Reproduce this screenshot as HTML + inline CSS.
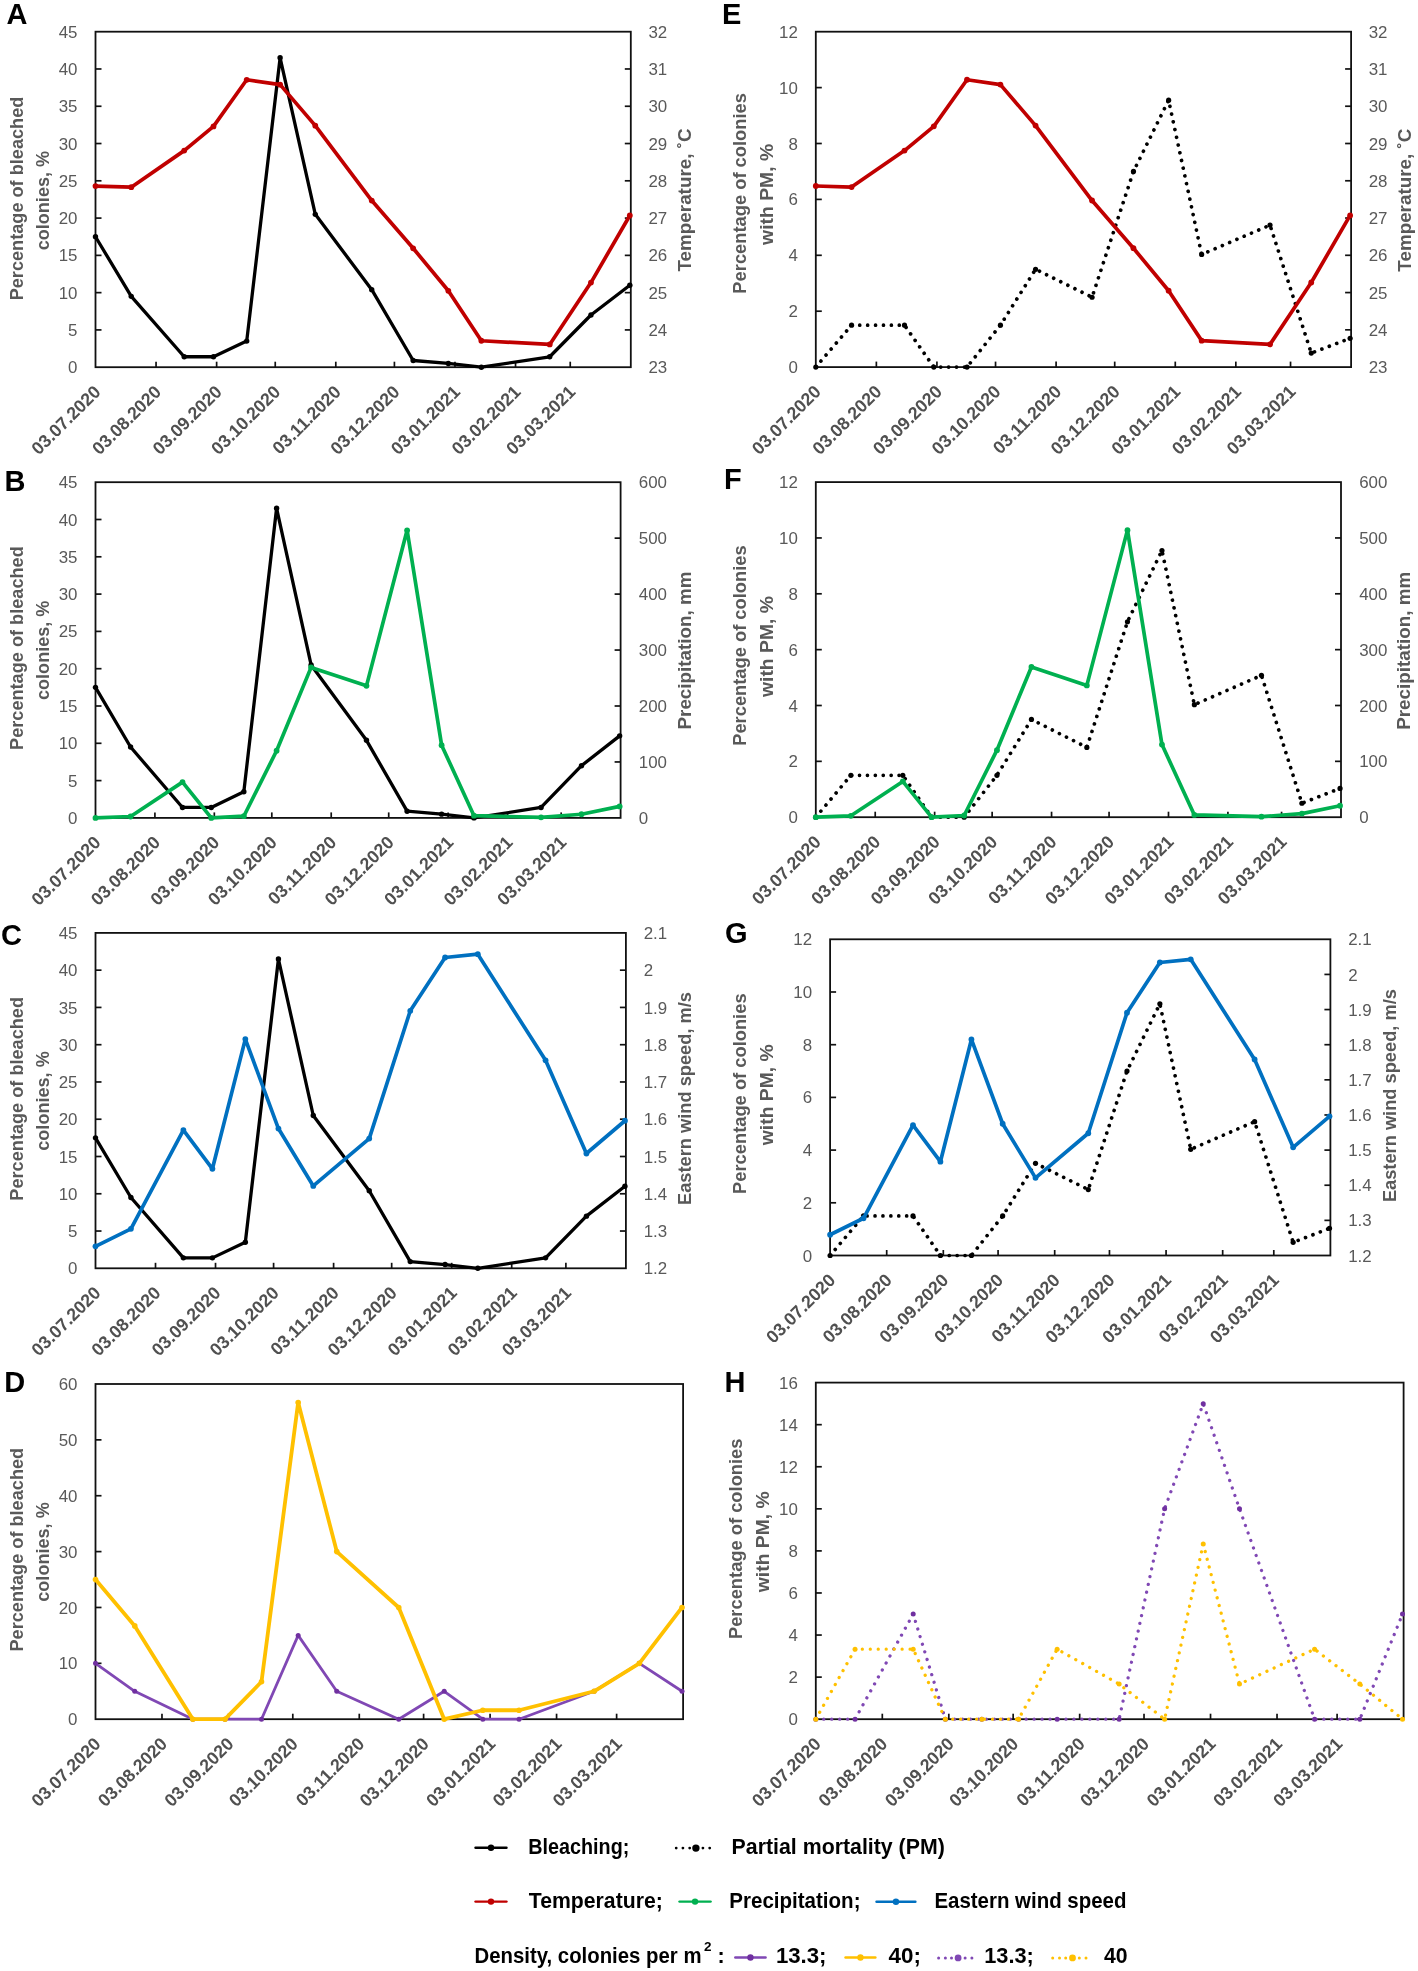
<!DOCTYPE html>
<html><head><meta charset="utf-8"><title>Figure</title>
<style>
html,body{margin:0;padding:0;background:#fff;}
body{width:1418px;height:1971px;overflow:hidden;font-family:"Liberation Sans",sans-serif;}
svg{display:block;will-change:transform;}
</style></head><body>
<svg width="1418" height="1971" viewBox="0 0 1418 1971" font-family="Liberation Sans, sans-serif"><line x1="156.06" y1="367.2" x2="156.06" y2="361.7" stroke="#111111" stroke-width="1.7"/><line x1="216.63" y1="367.2" x2="216.63" y2="361.7" stroke="#111111" stroke-width="1.7"/><line x1="275.24" y1="367.2" x2="275.24" y2="361.7" stroke="#111111" stroke-width="1.7"/><line x1="335.8" y1="367.2" x2="335.8" y2="361.7" stroke="#111111" stroke-width="1.7"/><line x1="394.41" y1="367.2" x2="394.41" y2="361.7" stroke="#111111" stroke-width="1.7"/><line x1="454.97" y1="367.2" x2="454.97" y2="361.7" stroke="#111111" stroke-width="1.7"/><line x1="515.53" y1="367.2" x2="515.53" y2="361.7" stroke="#111111" stroke-width="1.7"/><line x1="570.24" y1="367.2" x2="570.24" y2="361.7" stroke="#111111" stroke-width="1.7"/><text x="77.5" y="373.28" font-size="16.9" fill="#595959" text-anchor="end">0</text><line x1="95.5" y1="329.92" x2="101.5" y2="329.92" stroke="#111111" stroke-width="1.7"/><text x="77.5" y="336.01" font-size="16.9" fill="#595959" text-anchor="end">5</text><line x1="95.5" y1="292.64" x2="101.5" y2="292.64" stroke="#111111" stroke-width="1.7"/><text x="77.5" y="298.73" font-size="16.9" fill="#595959" text-anchor="end">10</text><line x1="95.5" y1="255.37" x2="101.5" y2="255.37" stroke="#111111" stroke-width="1.7"/><text x="77.5" y="261.45" font-size="16.9" fill="#595959" text-anchor="end">15</text><line x1="95.5" y1="218.09" x2="101.5" y2="218.09" stroke="#111111" stroke-width="1.7"/><text x="77.5" y="224.17" font-size="16.9" fill="#595959" text-anchor="end">20</text><line x1="95.5" y1="180.81" x2="101.5" y2="180.81" stroke="#111111" stroke-width="1.7"/><text x="77.5" y="186.9" font-size="16.9" fill="#595959" text-anchor="end">25</text><line x1="95.5" y1="143.53" x2="101.5" y2="143.53" stroke="#111111" stroke-width="1.7"/><text x="77.5" y="149.62" font-size="16.9" fill="#595959" text-anchor="end">30</text><line x1="95.5" y1="106.26" x2="101.5" y2="106.26" stroke="#111111" stroke-width="1.7"/><text x="77.5" y="112.34" font-size="16.9" fill="#595959" text-anchor="end">35</text><line x1="95.5" y1="68.98" x2="101.5" y2="68.98" stroke="#111111" stroke-width="1.7"/><text x="77.5" y="75.06" font-size="16.9" fill="#595959" text-anchor="end">40</text><text x="77.5" y="37.78" font-size="16.9" fill="#595959" text-anchor="end">45</text><text x="648.4" y="373.28" font-size="16.9" fill="#595959" text-anchor="start">23</text><line x1="630.8" y1="329.92" x2="624.8" y2="329.92" stroke="#111111" stroke-width="1.7"/><text x="648.4" y="336.01" font-size="16.9" fill="#595959" text-anchor="start">24</text><line x1="630.8" y1="292.64" x2="624.8" y2="292.64" stroke="#111111" stroke-width="1.7"/><text x="648.4" y="298.73" font-size="16.9" fill="#595959" text-anchor="start">25</text><line x1="630.8" y1="255.37" x2="624.8" y2="255.37" stroke="#111111" stroke-width="1.7"/><text x="648.4" y="261.45" font-size="16.9" fill="#595959" text-anchor="start">26</text><line x1="630.8" y1="218.09" x2="624.8" y2="218.09" stroke="#111111" stroke-width="1.7"/><text x="648.4" y="224.17" font-size="16.9" fill="#595959" text-anchor="start">27</text><line x1="630.8" y1="180.81" x2="624.8" y2="180.81" stroke="#111111" stroke-width="1.7"/><text x="648.4" y="186.9" font-size="16.9" fill="#595959" text-anchor="start">28</text><line x1="630.8" y1="143.53" x2="624.8" y2="143.53" stroke="#111111" stroke-width="1.7"/><text x="648.4" y="149.62" font-size="16.9" fill="#595959" text-anchor="start">29</text><line x1="630.8" y1="106.26" x2="624.8" y2="106.26" stroke="#111111" stroke-width="1.7"/><text x="648.4" y="112.34" font-size="16.9" fill="#595959" text-anchor="start">30</text><line x1="630.8" y1="68.98" x2="624.8" y2="68.98" stroke="#111111" stroke-width="1.7"/><text x="648.4" y="75.06" font-size="16.9" fill="#595959" text-anchor="start">31</text><text x="648.4" y="37.78" font-size="16.9" fill="#595959" text-anchor="start">32</text><text x="101.8" y="392.9" font-size="17.8" font-weight="bold" fill="#505050" text-anchor="end" transform="rotate(-45 101.8 392.9)">03.07.2020</text><text x="162.36" y="392.9" font-size="17.8" font-weight="bold" fill="#505050" text-anchor="end" transform="rotate(-45 162.36 392.9)">03.08.2020</text><text x="222.93" y="392.9" font-size="17.8" font-weight="bold" fill="#505050" text-anchor="end" transform="rotate(-45 222.93 392.9)">03.09.2020</text><text x="281.54" y="392.9" font-size="17.8" font-weight="bold" fill="#505050" text-anchor="end" transform="rotate(-45 281.54 392.9)">03.10.2020</text><text x="342.1" y="392.9" font-size="17.8" font-weight="bold" fill="#505050" text-anchor="end" transform="rotate(-45 342.1 392.9)">03.11.2020</text><text x="400.71" y="392.9" font-size="17.8" font-weight="bold" fill="#505050" text-anchor="end" transform="rotate(-45 400.71 392.9)">03.12.2020</text><text x="461.27" y="392.9" font-size="17.8" font-weight="bold" fill="#505050" text-anchor="end" transform="rotate(-45 461.27 392.9)">03.01.2021</text><text x="521.83" y="392.9" font-size="17.8" font-weight="bold" fill="#505050" text-anchor="end" transform="rotate(-45 521.83 392.9)">03.02.2021</text><text x="576.54" y="392.9" font-size="17.8" font-weight="bold" fill="#505050" text-anchor="end" transform="rotate(-45 576.54 392.9)">03.03.2021</text><rect x="95.5" y="31.7" width="535.3" height="335.5" fill="none" stroke="#111111" stroke-width="1.8"/><path d="M95.5 236.73 L131.25 296.37 L184.2 356.76 L213.5 356.76 L246.71 341.11 L280.12 57.79 L315.29 214.36 L371.75 289.66 L413.16 360.49 L448.33 363.47 L481.35 367.2 L549.72 356.76 L590.95 315.01 L629.82 285.19" fill="none" stroke="#000000" stroke-width="3.3" stroke-linejoin="round"/><circle cx="95.5" cy="236.73" r="2.7" fill="#000000"/><circle cx="131.25" cy="296.37" r="2.7" fill="#000000"/><circle cx="184.2" cy="356.76" r="2.7" fill="#000000"/><circle cx="213.5" cy="356.76" r="2.7" fill="#000000"/><circle cx="246.71" cy="341.11" r="2.7" fill="#000000"/><circle cx="280.12" cy="57.79" r="2.7" fill="#000000"/><circle cx="315.29" cy="214.36" r="2.7" fill="#000000"/><circle cx="371.75" cy="289.66" r="2.7" fill="#000000"/><circle cx="413.16" cy="360.49" r="2.7" fill="#000000"/><circle cx="448.33" cy="363.47" r="2.7" fill="#000000"/><circle cx="481.35" cy="367.2" r="2.7" fill="#000000"/><circle cx="549.72" cy="356.76" r="2.7" fill="#000000"/><circle cx="590.95" cy="315.01" r="2.7" fill="#000000"/><circle cx="629.82" cy="285.19" r="2.7" fill="#000000"/><path d="M95.5 186.03 L131.25 187.15 L184.2 150.62 L213.5 126.39 L246.71 79.79 L280.12 84.63 L315.29 125.64 L371.75 200.57 L413.16 248.28 L448.33 290.78 L481.35 340.73 L549.72 344.46 L590.95 282.58 L629.82 215.48" fill="none" stroke="#C00000" stroke-width="3.7" stroke-linejoin="round"/><circle cx="95.5" cy="186.03" r="2.9" fill="#C00000"/><circle cx="131.25" cy="187.15" r="2.9" fill="#C00000"/><circle cx="184.2" cy="150.62" r="2.9" fill="#C00000"/><circle cx="213.5" cy="126.39" r="2.9" fill="#C00000"/><circle cx="246.71" cy="79.79" r="2.9" fill="#C00000"/><circle cx="280.12" cy="84.63" r="2.9" fill="#C00000"/><circle cx="315.29" cy="125.64" r="2.9" fill="#C00000"/><circle cx="371.75" cy="200.57" r="2.9" fill="#C00000"/><circle cx="413.16" cy="248.28" r="2.9" fill="#C00000"/><circle cx="448.33" cy="290.78" r="2.9" fill="#C00000"/><circle cx="481.35" cy="340.73" r="2.9" fill="#C00000"/><circle cx="549.72" cy="344.46" r="2.9" fill="#C00000"/><circle cx="590.95" cy="282.58" r="2.9" fill="#C00000"/><circle cx="629.82" cy="215.48" r="2.9" fill="#C00000"/><line x1="154.91" y1="817.9" x2="154.91" y2="812.4" stroke="#111111" stroke-width="1.7"/><line x1="214.32" y1="817.9" x2="214.32" y2="812.4" stroke="#111111" stroke-width="1.7"/><line x1="271.81" y1="817.9" x2="271.81" y2="812.4" stroke="#111111" stroke-width="1.7"/><line x1="331.22" y1="817.9" x2="331.22" y2="812.4" stroke="#111111" stroke-width="1.7"/><line x1="388.71" y1="817.9" x2="388.71" y2="812.4" stroke="#111111" stroke-width="1.7"/><line x1="448.12" y1="817.9" x2="448.12" y2="812.4" stroke="#111111" stroke-width="1.7"/><line x1="507.53" y1="817.9" x2="507.53" y2="812.4" stroke="#111111" stroke-width="1.7"/><line x1="561.19" y1="817.9" x2="561.19" y2="812.4" stroke="#111111" stroke-width="1.7"/><text x="77.5" y="823.98" font-size="16.9" fill="#595959" text-anchor="end">0</text><line x1="95.5" y1="780.6" x2="101.5" y2="780.6" stroke="#111111" stroke-width="1.7"/><text x="77.5" y="786.68" font-size="16.9" fill="#595959" text-anchor="end">5</text><line x1="95.5" y1="743.3" x2="101.5" y2="743.3" stroke="#111111" stroke-width="1.7"/><text x="77.5" y="749.38" font-size="16.9" fill="#595959" text-anchor="end">10</text><line x1="95.5" y1="706" x2="101.5" y2="706" stroke="#111111" stroke-width="1.7"/><text x="77.5" y="712.08" font-size="16.9" fill="#595959" text-anchor="end">15</text><line x1="95.5" y1="668.7" x2="101.5" y2="668.7" stroke="#111111" stroke-width="1.7"/><text x="77.5" y="674.78" font-size="16.9" fill="#595959" text-anchor="end">20</text><line x1="95.5" y1="631.4" x2="101.5" y2="631.4" stroke="#111111" stroke-width="1.7"/><text x="77.5" y="637.48" font-size="16.9" fill="#595959" text-anchor="end">25</text><line x1="95.5" y1="594.1" x2="101.5" y2="594.1" stroke="#111111" stroke-width="1.7"/><text x="77.5" y="600.18" font-size="16.9" fill="#595959" text-anchor="end">30</text><line x1="95.5" y1="556.8" x2="101.5" y2="556.8" stroke="#111111" stroke-width="1.7"/><text x="77.5" y="562.88" font-size="16.9" fill="#595959" text-anchor="end">35</text><line x1="95.5" y1="519.5" x2="101.5" y2="519.5" stroke="#111111" stroke-width="1.7"/><text x="77.5" y="525.58" font-size="16.9" fill="#595959" text-anchor="end">40</text><text x="77.5" y="488.28" font-size="16.9" fill="#595959" text-anchor="end">45</text><text x="638.8" y="823.98" font-size="16.9" fill="#595959" text-anchor="start">0</text><line x1="620.6" y1="761.95" x2="614.6" y2="761.95" stroke="#111111" stroke-width="1.7"/><text x="638.8" y="768.03" font-size="16.9" fill="#595959" text-anchor="start">100</text><line x1="620.6" y1="706" x2="614.6" y2="706" stroke="#111111" stroke-width="1.7"/><text x="638.8" y="712.08" font-size="16.9" fill="#595959" text-anchor="start">200</text><line x1="620.6" y1="650.05" x2="614.6" y2="650.05" stroke="#111111" stroke-width="1.7"/><text x="638.8" y="656.13" font-size="16.9" fill="#595959" text-anchor="start">300</text><line x1="620.6" y1="594.1" x2="614.6" y2="594.1" stroke="#111111" stroke-width="1.7"/><text x="638.8" y="600.18" font-size="16.9" fill="#595959" text-anchor="start">400</text><line x1="620.6" y1="538.15" x2="614.6" y2="538.15" stroke="#111111" stroke-width="1.7"/><text x="638.8" y="544.23" font-size="16.9" fill="#595959" text-anchor="start">500</text><text x="638.8" y="488.28" font-size="16.9" fill="#595959" text-anchor="start">600</text><text x="101.8" y="843.6" font-size="17.8" font-weight="bold" fill="#505050" text-anchor="end" transform="rotate(-45 101.8 843.6)">03.07.2020</text><text x="161.21" y="843.6" font-size="17.8" font-weight="bold" fill="#505050" text-anchor="end" transform="rotate(-45 161.21 843.6)">03.08.2020</text><text x="220.62" y="843.6" font-size="17.8" font-weight="bold" fill="#505050" text-anchor="end" transform="rotate(-45 220.62 843.6)">03.09.2020</text><text x="278.11" y="843.6" font-size="17.8" font-weight="bold" fill="#505050" text-anchor="end" transform="rotate(-45 278.11 843.6)">03.10.2020</text><text x="337.52" y="843.6" font-size="17.8" font-weight="bold" fill="#505050" text-anchor="end" transform="rotate(-45 337.52 843.6)">03.11.2020</text><text x="395.01" y="843.6" font-size="17.8" font-weight="bold" fill="#505050" text-anchor="end" transform="rotate(-45 395.01 843.6)">03.12.2020</text><text x="454.42" y="843.6" font-size="17.8" font-weight="bold" fill="#505050" text-anchor="end" transform="rotate(-45 454.42 843.6)">03.01.2021</text><text x="513.83" y="843.6" font-size="17.8" font-weight="bold" fill="#505050" text-anchor="end" transform="rotate(-45 513.83 843.6)">03.02.2021</text><text x="567.49" y="843.6" font-size="17.8" font-weight="bold" fill="#505050" text-anchor="end" transform="rotate(-45 567.49 843.6)">03.03.2021</text><rect x="95.5" y="482.2" width="525.1" height="335.7" fill="none" stroke="#111111" stroke-width="1.8"/><path d="M95.5 687.35 L130.57 747.03 L182.51 807.46 L211.25 807.46 L243.83 791.79 L276.6 508.31 L311.1 664.97 L366.48 740.32 L407.11 811.19 L441.61 814.17 L473.99 817.9 L541.07 807.46 L581.5 765.68 L619.64 735.84" fill="none" stroke="#000000" stroke-width="3.3" stroke-linejoin="round"/><circle cx="95.5" cy="687.35" r="2.7" fill="#000000"/><circle cx="130.57" cy="747.03" r="2.7" fill="#000000"/><circle cx="182.51" cy="807.46" r="2.7" fill="#000000"/><circle cx="211.25" cy="807.46" r="2.7" fill="#000000"/><circle cx="243.83" cy="791.79" r="2.7" fill="#000000"/><circle cx="276.6" cy="508.31" r="2.7" fill="#000000"/><circle cx="311.1" cy="664.97" r="2.7" fill="#000000"/><circle cx="366.48" cy="740.32" r="2.7" fill="#000000"/><circle cx="407.11" cy="811.19" r="2.7" fill="#000000"/><circle cx="441.61" cy="814.17" r="2.7" fill="#000000"/><circle cx="473.99" cy="817.9" r="2.7" fill="#000000"/><circle cx="541.07" cy="807.46" r="2.7" fill="#000000"/><circle cx="581.5" cy="765.68" r="2.7" fill="#000000"/><circle cx="619.64" cy="735.84" r="2.7" fill="#000000"/><path d="M95.5 817.9 L130.57 816.5 L182.51 782.09 L211.25 817.9 L243.83 816.22 L276.6 750.76 L311.1 667.39 L366.48 685.86 L407.11 530.32 L441.61 745.16 L473.99 815.66 L541.07 817.34 L581.5 814.26 L619.64 806.43" fill="none" stroke="#00B050" stroke-width="3.7" stroke-linejoin="round"/><circle cx="95.5" cy="817.9" r="2.9" fill="#00B050"/><circle cx="130.57" cy="816.5" r="2.9" fill="#00B050"/><circle cx="182.51" cy="782.09" r="2.9" fill="#00B050"/><circle cx="211.25" cy="817.9" r="2.9" fill="#00B050"/><circle cx="243.83" cy="816.22" r="2.9" fill="#00B050"/><circle cx="276.6" cy="750.76" r="2.9" fill="#00B050"/><circle cx="311.1" cy="667.39" r="2.9" fill="#00B050"/><circle cx="366.48" cy="685.86" r="2.9" fill="#00B050"/><circle cx="407.11" cy="530.32" r="2.9" fill="#00B050"/><circle cx="441.61" cy="745.16" r="2.9" fill="#00B050"/><circle cx="473.99" cy="815.66" r="2.9" fill="#00B050"/><circle cx="541.07" cy="817.34" r="2.9" fill="#00B050"/><circle cx="581.5" cy="814.26" r="2.9" fill="#00B050"/><circle cx="619.64" cy="806.43" r="2.9" fill="#00B050"/><line x1="155.51" y1="1268.3" x2="155.51" y2="1262.8" stroke="#111111" stroke-width="1.7"/><line x1="215.52" y1="1268.3" x2="215.52" y2="1262.8" stroke="#111111" stroke-width="1.7"/><line x1="273.59" y1="1268.3" x2="273.59" y2="1262.8" stroke="#111111" stroke-width="1.7"/><line x1="333.6" y1="1268.3" x2="333.6" y2="1262.8" stroke="#111111" stroke-width="1.7"/><line x1="391.67" y1="1268.3" x2="391.67" y2="1262.8" stroke="#111111" stroke-width="1.7"/><line x1="451.68" y1="1268.3" x2="451.68" y2="1262.8" stroke="#111111" stroke-width="1.7"/><line x1="511.69" y1="1268.3" x2="511.69" y2="1262.8" stroke="#111111" stroke-width="1.7"/><line x1="565.89" y1="1268.3" x2="565.89" y2="1262.8" stroke="#111111" stroke-width="1.7"/><text x="77.5" y="1274.38" font-size="16.9" fill="#595959" text-anchor="end">0</text><line x1="95.5" y1="1231.03" x2="101.5" y2="1231.03" stroke="#111111" stroke-width="1.7"/><text x="77.5" y="1237.12" font-size="16.9" fill="#595959" text-anchor="end">5</text><line x1="95.5" y1="1193.77" x2="101.5" y2="1193.77" stroke="#111111" stroke-width="1.7"/><text x="77.5" y="1199.85" font-size="16.9" fill="#595959" text-anchor="end">10</text><line x1="95.5" y1="1156.5" x2="101.5" y2="1156.5" stroke="#111111" stroke-width="1.7"/><text x="77.5" y="1162.58" font-size="16.9" fill="#595959" text-anchor="end">15</text><line x1="95.5" y1="1119.23" x2="101.5" y2="1119.23" stroke="#111111" stroke-width="1.7"/><text x="77.5" y="1125.32" font-size="16.9" fill="#595959" text-anchor="end">20</text><line x1="95.5" y1="1081.97" x2="101.5" y2="1081.97" stroke="#111111" stroke-width="1.7"/><text x="77.5" y="1088.05" font-size="16.9" fill="#595959" text-anchor="end">25</text><line x1="95.5" y1="1044.7" x2="101.5" y2="1044.7" stroke="#111111" stroke-width="1.7"/><text x="77.5" y="1050.78" font-size="16.9" fill="#595959" text-anchor="end">30</text><line x1="95.5" y1="1007.43" x2="101.5" y2="1007.43" stroke="#111111" stroke-width="1.7"/><text x="77.5" y="1013.52" font-size="16.9" fill="#595959" text-anchor="end">35</text><line x1="95.5" y1="970.17" x2="101.5" y2="970.17" stroke="#111111" stroke-width="1.7"/><text x="77.5" y="976.25" font-size="16.9" fill="#595959" text-anchor="end">40</text><text x="77.5" y="938.98" font-size="16.9" fill="#595959" text-anchor="end">45</text><text x="643.7" y="1274.38" font-size="16.9" fill="#595959" text-anchor="start">1.2</text><line x1="625.9" y1="1231.03" x2="619.9" y2="1231.03" stroke="#111111" stroke-width="1.7"/><text x="643.7" y="1237.12" font-size="16.9" fill="#595959" text-anchor="start">1.3</text><line x1="625.9" y1="1193.77" x2="619.9" y2="1193.77" stroke="#111111" stroke-width="1.7"/><text x="643.7" y="1199.85" font-size="16.9" fill="#595959" text-anchor="start">1.4</text><line x1="625.9" y1="1156.5" x2="619.9" y2="1156.5" stroke="#111111" stroke-width="1.7"/><text x="643.7" y="1162.58" font-size="16.9" fill="#595959" text-anchor="start">1.5</text><line x1="625.9" y1="1119.23" x2="619.9" y2="1119.23" stroke="#111111" stroke-width="1.7"/><text x="643.7" y="1125.32" font-size="16.9" fill="#595959" text-anchor="start">1.6</text><line x1="625.9" y1="1081.97" x2="619.9" y2="1081.97" stroke="#111111" stroke-width="1.7"/><text x="643.7" y="1088.05" font-size="16.9" fill="#595959" text-anchor="start">1.7</text><line x1="625.9" y1="1044.7" x2="619.9" y2="1044.7" stroke="#111111" stroke-width="1.7"/><text x="643.7" y="1050.78" font-size="16.9" fill="#595959" text-anchor="start">1.8</text><line x1="625.9" y1="1007.43" x2="619.9" y2="1007.43" stroke="#111111" stroke-width="1.7"/><text x="643.7" y="1013.52" font-size="16.9" fill="#595959" text-anchor="start">1.9</text><line x1="625.9" y1="970.17" x2="619.9" y2="970.17" stroke="#111111" stroke-width="1.7"/><text x="643.7" y="976.25" font-size="16.9" fill="#595959" text-anchor="start">2</text><text x="643.7" y="938.98" font-size="16.9" fill="#595959" text-anchor="start">2.1</text><text x="101.8" y="1294" font-size="17.8" font-weight="bold" fill="#505050" text-anchor="end" transform="rotate(-45 101.8 1294)">03.07.2020</text><text x="161.81" y="1294" font-size="17.8" font-weight="bold" fill="#505050" text-anchor="end" transform="rotate(-45 161.81 1294)">03.08.2020</text><text x="221.82" y="1294" font-size="17.8" font-weight="bold" fill="#505050" text-anchor="end" transform="rotate(-45 221.82 1294)">03.09.2020</text><text x="279.89" y="1294" font-size="17.8" font-weight="bold" fill="#505050" text-anchor="end" transform="rotate(-45 279.89 1294)">03.10.2020</text><text x="339.9" y="1294" font-size="17.8" font-weight="bold" fill="#505050" text-anchor="end" transform="rotate(-45 339.9 1294)">03.11.2020</text><text x="397.97" y="1294" font-size="17.8" font-weight="bold" fill="#505050" text-anchor="end" transform="rotate(-45 397.97 1294)">03.12.2020</text><text x="457.98" y="1294" font-size="17.8" font-weight="bold" fill="#505050" text-anchor="end" transform="rotate(-45 457.98 1294)">03.01.2021</text><text x="517.99" y="1294" font-size="17.8" font-weight="bold" fill="#505050" text-anchor="end" transform="rotate(-45 517.99 1294)">03.02.2021</text><text x="572.19" y="1294" font-size="17.8" font-weight="bold" fill="#505050" text-anchor="end" transform="rotate(-45 572.19 1294)">03.03.2021</text><rect x="95.5" y="932.9" width="530.4" height="335.4" fill="none" stroke="#111111" stroke-width="1.8"/><path d="M95.5 1137.87 L130.92 1197.49 L183.38 1257.87 L212.42 1257.87 L245.33 1242.21 L278.43 958.99 L313.27 1115.51 L369.22 1190.79 L410.26 1261.59 L445.1 1264.57 L477.81 1268.3 L545.57 1257.87 L586.41 1216.13 L624.93 1186.31" fill="none" stroke="#000000" stroke-width="3.3" stroke-linejoin="round"/><circle cx="95.5" cy="1137.87" r="2.7" fill="#000000"/><circle cx="130.92" cy="1197.49" r="2.7" fill="#000000"/><circle cx="183.38" cy="1257.87" r="2.7" fill="#000000"/><circle cx="212.42" cy="1257.87" r="2.7" fill="#000000"/><circle cx="245.33" cy="1242.21" r="2.7" fill="#000000"/><circle cx="278.43" cy="958.99" r="2.7" fill="#000000"/><circle cx="313.27" cy="1115.51" r="2.7" fill="#000000"/><circle cx="369.22" cy="1190.79" r="2.7" fill="#000000"/><circle cx="410.26" cy="1261.59" r="2.7" fill="#000000"/><circle cx="445.1" cy="1264.57" r="2.7" fill="#000000"/><circle cx="477.81" cy="1268.3" r="2.7" fill="#000000"/><circle cx="545.57" cy="1257.87" r="2.7" fill="#000000"/><circle cx="586.41" cy="1216.13" r="2.7" fill="#000000"/><circle cx="624.93" cy="1186.31" r="2.7" fill="#000000"/><path d="M95.5 1246.31 L130.92 1228.8 L183.38 1130.04 L212.42 1168.8 L245.33 1039.11 L278.43 1128.55 L313.27 1185.94 L369.22 1138.61 L410.26 1010.79 L445.1 957.5 L477.81 954.14 L545.57 1060.35 L586.41 1153.52 L624.93 1120.72" fill="none" stroke="#0070C0" stroke-width="3.7" stroke-linejoin="round"/><circle cx="95.5" cy="1246.31" r="2.9" fill="#0070C0"/><circle cx="130.92" cy="1228.8" r="2.9" fill="#0070C0"/><circle cx="183.38" cy="1130.04" r="2.9" fill="#0070C0"/><circle cx="212.42" cy="1168.8" r="2.9" fill="#0070C0"/><circle cx="245.33" cy="1039.11" r="2.9" fill="#0070C0"/><circle cx="278.43" cy="1128.55" r="2.9" fill="#0070C0"/><circle cx="313.27" cy="1185.94" r="2.9" fill="#0070C0"/><circle cx="369.22" cy="1138.61" r="2.9" fill="#0070C0"/><circle cx="410.26" cy="1010.79" r="2.9" fill="#0070C0"/><circle cx="445.1" cy="957.5" r="2.9" fill="#0070C0"/><circle cx="477.81" cy="954.14" r="2.9" fill="#0070C0"/><circle cx="545.57" cy="1060.35" r="2.9" fill="#0070C0"/><circle cx="586.41" cy="1153.52" r="2.9" fill="#0070C0"/><circle cx="624.93" cy="1120.72" r="2.9" fill="#0070C0"/><line x1="161.98" y1="1719.2" x2="161.98" y2="1713.7" stroke="#111111" stroke-width="1.7"/><line x1="228.46" y1="1719.2" x2="228.46" y2="1713.7" stroke="#111111" stroke-width="1.7"/><line x1="292.8" y1="1719.2" x2="292.8" y2="1713.7" stroke="#111111" stroke-width="1.7"/><line x1="359.28" y1="1719.2" x2="359.28" y2="1713.7" stroke="#111111" stroke-width="1.7"/><line x1="423.61" y1="1719.2" x2="423.61" y2="1713.7" stroke="#111111" stroke-width="1.7"/><line x1="490.09" y1="1719.2" x2="490.09" y2="1713.7" stroke="#111111" stroke-width="1.7"/><line x1="556.57" y1="1719.2" x2="556.57" y2="1713.7" stroke="#111111" stroke-width="1.7"/><line x1="616.62" y1="1719.2" x2="616.62" y2="1713.7" stroke="#111111" stroke-width="1.7"/><text x="77.5" y="1725.28" font-size="16.9" fill="#595959" text-anchor="end">0</text><line x1="95.5" y1="1663.33" x2="101.5" y2="1663.33" stroke="#111111" stroke-width="1.7"/><text x="77.5" y="1669.42" font-size="16.9" fill="#595959" text-anchor="end">10</text><line x1="95.5" y1="1607.47" x2="101.5" y2="1607.47" stroke="#111111" stroke-width="1.7"/><text x="77.5" y="1613.55" font-size="16.9" fill="#595959" text-anchor="end">20</text><line x1="95.5" y1="1551.6" x2="101.5" y2="1551.6" stroke="#111111" stroke-width="1.7"/><text x="77.5" y="1557.68" font-size="16.9" fill="#595959" text-anchor="end">30</text><line x1="95.5" y1="1495.73" x2="101.5" y2="1495.73" stroke="#111111" stroke-width="1.7"/><text x="77.5" y="1501.82" font-size="16.9" fill="#595959" text-anchor="end">40</text><line x1="95.5" y1="1439.87" x2="101.5" y2="1439.87" stroke="#111111" stroke-width="1.7"/><text x="77.5" y="1445.95" font-size="16.9" fill="#595959" text-anchor="end">50</text><text x="77.5" y="1390.08" font-size="16.9" fill="#595959" text-anchor="end">60</text><text x="101.8" y="1744.9" font-size="17.8" font-weight="bold" fill="#505050" text-anchor="end" transform="rotate(-45 101.8 1744.9)">03.07.2020</text><text x="168.28" y="1744.9" font-size="17.8" font-weight="bold" fill="#505050" text-anchor="end" transform="rotate(-45 168.28 1744.9)">03.08.2020</text><text x="234.76" y="1744.9" font-size="17.8" font-weight="bold" fill="#505050" text-anchor="end" transform="rotate(-45 234.76 1744.9)">03.09.2020</text><text x="299.1" y="1744.9" font-size="17.8" font-weight="bold" fill="#505050" text-anchor="end" transform="rotate(-45 299.1 1744.9)">03.10.2020</text><text x="365.58" y="1744.9" font-size="17.8" font-weight="bold" fill="#505050" text-anchor="end" transform="rotate(-45 365.58 1744.9)">03.11.2020</text><text x="429.91" y="1744.9" font-size="17.8" font-weight="bold" fill="#505050" text-anchor="end" transform="rotate(-45 429.91 1744.9)">03.12.2020</text><text x="496.39" y="1744.9" font-size="17.8" font-weight="bold" fill="#505050" text-anchor="end" transform="rotate(-45 496.39 1744.9)">03.01.2021</text><text x="562.87" y="1744.9" font-size="17.8" font-weight="bold" fill="#505050" text-anchor="end" transform="rotate(-45 562.87 1744.9)">03.02.2021</text><text x="622.92" y="1744.9" font-size="17.8" font-weight="bold" fill="#505050" text-anchor="end" transform="rotate(-45 622.92 1744.9)">03.03.2021</text><rect x="95.5" y="1384" width="587.6" height="335.2" fill="none" stroke="#111111" stroke-width="1.8"/><path d="M95.5 1663.33 L134.74 1691.27 L192.86 1719.2 L225.03 1719.2 L261.49 1719.2 L298.16 1635.4 L336.76 1691.27 L398.74 1719.2 L444.2 1691.27 L482.8 1719.2 L519.04 1719.2 L594.1 1691.27 L639.35 1663.33 L682.03 1691.27" fill="none" stroke="#8048B4" stroke-width="2.8" stroke-linejoin="round"/><circle cx="95.5" cy="1663.33" r="2.5" fill="#7030A0"/><circle cx="134.74" cy="1691.27" r="2.5" fill="#7030A0"/><circle cx="192.86" cy="1719.2" r="2.5" fill="#7030A0"/><circle cx="225.03" cy="1719.2" r="2.5" fill="#7030A0"/><circle cx="261.49" cy="1719.2" r="2.5" fill="#7030A0"/><circle cx="298.16" cy="1635.4" r="2.5" fill="#7030A0"/><circle cx="336.76" cy="1691.27" r="2.5" fill="#7030A0"/><circle cx="398.74" cy="1719.2" r="2.5" fill="#7030A0"/><circle cx="444.2" cy="1691.27" r="2.5" fill="#7030A0"/><circle cx="482.8" cy="1719.2" r="2.5" fill="#7030A0"/><circle cx="519.04" cy="1719.2" r="2.5" fill="#7030A0"/><circle cx="594.1" cy="1691.27" r="2.5" fill="#7030A0"/><circle cx="639.35" cy="1663.33" r="2.5" fill="#7030A0"/><circle cx="682.03" cy="1691.27" r="2.5" fill="#7030A0"/><path d="M95.5 1579.53 L134.74 1625.9 L192.86 1719.2 L225.03 1719.2 L261.49 1681.77 L298.16 1402.44 L336.76 1551.6 L398.74 1607.47 L444.2 1719.2 L482.8 1710.26 L519.04 1710.26 L594.1 1691.27 L639.35 1663.33 L682.03 1607.47" fill="none" stroke="#FFC000" stroke-width="3.8" stroke-linejoin="round"/><circle cx="95.5" cy="1579.53" r="2.8" fill="#FFC000"/><circle cx="134.74" cy="1625.9" r="2.8" fill="#FFC000"/><circle cx="192.86" cy="1719.2" r="2.8" fill="#FFC000"/><circle cx="225.03" cy="1719.2" r="2.8" fill="#FFC000"/><circle cx="261.49" cy="1681.77" r="2.8" fill="#FFC000"/><circle cx="298.16" cy="1402.44" r="2.8" fill="#FFC000"/><circle cx="336.76" cy="1551.6" r="2.8" fill="#FFC000"/><circle cx="398.74" cy="1607.47" r="2.8" fill="#FFC000"/><circle cx="444.2" cy="1719.2" r="2.8" fill="#FFC000"/><circle cx="482.8" cy="1710.26" r="2.8" fill="#FFC000"/><circle cx="519.04" cy="1710.26" r="2.8" fill="#FFC000"/><circle cx="594.1" cy="1691.27" r="2.8" fill="#FFC000"/><circle cx="639.35" cy="1663.33" r="2.8" fill="#FFC000"/><circle cx="682.03" cy="1607.47" r="2.8" fill="#FFC000"/><line x1="876.36" y1="367.1" x2="876.36" y2="361.6" stroke="#111111" stroke-width="1.7"/><line x1="936.93" y1="367.1" x2="936.93" y2="361.6" stroke="#111111" stroke-width="1.7"/><line x1="995.54" y1="367.1" x2="995.54" y2="361.6" stroke="#111111" stroke-width="1.7"/><line x1="1056.1" y1="367.1" x2="1056.1" y2="361.6" stroke="#111111" stroke-width="1.7"/><line x1="1114.71" y1="367.1" x2="1114.71" y2="361.6" stroke="#111111" stroke-width="1.7"/><line x1="1175.27" y1="367.1" x2="1175.27" y2="361.6" stroke="#111111" stroke-width="1.7"/><line x1="1235.83" y1="367.1" x2="1235.83" y2="361.6" stroke="#111111" stroke-width="1.7"/><line x1="1290.54" y1="367.1" x2="1290.54" y2="361.6" stroke="#111111" stroke-width="1.7"/><text x="797.8" y="373.18" font-size="16.9" fill="#595959" text-anchor="end">0</text><line x1="815.8" y1="311.2" x2="821.8" y2="311.2" stroke="#111111" stroke-width="1.7"/><text x="797.8" y="317.28" font-size="16.9" fill="#595959" text-anchor="end">2</text><line x1="815.8" y1="255.3" x2="821.8" y2="255.3" stroke="#111111" stroke-width="1.7"/><text x="797.8" y="261.38" font-size="16.9" fill="#595959" text-anchor="end">4</text><line x1="815.8" y1="199.4" x2="821.8" y2="199.4" stroke="#111111" stroke-width="1.7"/><text x="797.8" y="205.48" font-size="16.9" fill="#595959" text-anchor="end">6</text><line x1="815.8" y1="143.5" x2="821.8" y2="143.5" stroke="#111111" stroke-width="1.7"/><text x="797.8" y="149.58" font-size="16.9" fill="#595959" text-anchor="end">8</text><line x1="815.8" y1="87.6" x2="821.8" y2="87.6" stroke="#111111" stroke-width="1.7"/><text x="797.8" y="93.68" font-size="16.9" fill="#595959" text-anchor="end">10</text><text x="797.8" y="37.78" font-size="16.9" fill="#595959" text-anchor="end">12</text><text x="1368.7" y="373.18" font-size="16.9" fill="#595959" text-anchor="start">23</text><line x1="1351.1" y1="329.83" x2="1345.1" y2="329.83" stroke="#111111" stroke-width="1.7"/><text x="1368.7" y="335.92" font-size="16.9" fill="#595959" text-anchor="start">24</text><line x1="1351.1" y1="292.57" x2="1345.1" y2="292.57" stroke="#111111" stroke-width="1.7"/><text x="1368.7" y="298.65" font-size="16.9" fill="#595959" text-anchor="start">25</text><line x1="1351.1" y1="255.3" x2="1345.1" y2="255.3" stroke="#111111" stroke-width="1.7"/><text x="1368.7" y="261.38" font-size="16.9" fill="#595959" text-anchor="start">26</text><line x1="1351.1" y1="218.03" x2="1345.1" y2="218.03" stroke="#111111" stroke-width="1.7"/><text x="1368.7" y="224.12" font-size="16.9" fill="#595959" text-anchor="start">27</text><line x1="1351.1" y1="180.77" x2="1345.1" y2="180.77" stroke="#111111" stroke-width="1.7"/><text x="1368.7" y="186.85" font-size="16.9" fill="#595959" text-anchor="start">28</text><line x1="1351.1" y1="143.5" x2="1345.1" y2="143.5" stroke="#111111" stroke-width="1.7"/><text x="1368.7" y="149.58" font-size="16.9" fill="#595959" text-anchor="start">29</text><line x1="1351.1" y1="106.23" x2="1345.1" y2="106.23" stroke="#111111" stroke-width="1.7"/><text x="1368.7" y="112.32" font-size="16.9" fill="#595959" text-anchor="start">30</text><line x1="1351.1" y1="68.97" x2="1345.1" y2="68.97" stroke="#111111" stroke-width="1.7"/><text x="1368.7" y="75.05" font-size="16.9" fill="#595959" text-anchor="start">31</text><text x="1368.7" y="37.78" font-size="16.9" fill="#595959" text-anchor="start">32</text><text x="822.1" y="392.8" font-size="17.8" font-weight="bold" fill="#505050" text-anchor="end" transform="rotate(-45 822.1 392.8)">03.07.2020</text><text x="882.66" y="392.8" font-size="17.8" font-weight="bold" fill="#505050" text-anchor="end" transform="rotate(-45 882.66 392.8)">03.08.2020</text><text x="943.23" y="392.8" font-size="17.8" font-weight="bold" fill="#505050" text-anchor="end" transform="rotate(-45 943.23 392.8)">03.09.2020</text><text x="1001.84" y="392.8" font-size="17.8" font-weight="bold" fill="#505050" text-anchor="end" transform="rotate(-45 1001.84 392.8)">03.10.2020</text><text x="1062.4" y="392.8" font-size="17.8" font-weight="bold" fill="#505050" text-anchor="end" transform="rotate(-45 1062.4 392.8)">03.11.2020</text><text x="1121.01" y="392.8" font-size="17.8" font-weight="bold" fill="#505050" text-anchor="end" transform="rotate(-45 1121.01 392.8)">03.12.2020</text><text x="1181.57" y="392.8" font-size="17.8" font-weight="bold" fill="#505050" text-anchor="end" transform="rotate(-45 1181.57 392.8)">03.01.2021</text><text x="1242.13" y="392.8" font-size="17.8" font-weight="bold" fill="#505050" text-anchor="end" transform="rotate(-45 1242.13 392.8)">03.02.2021</text><text x="1296.84" y="392.8" font-size="17.8" font-weight="bold" fill="#505050" text-anchor="end" transform="rotate(-45 1296.84 392.8)">03.03.2021</text><rect x="815.8" y="31.7" width="535.3" height="335.4" fill="none" stroke="#111111" stroke-width="1.8"/><path d="M815.8 367.1 L851.55 325.18 L904.5 325.18 L933.8 367.1 L967.01 367.1 L1000.42 325.18 L1035.59 269.28 L1092.05 297.23 L1133.46 171.45 L1168.63 100.18 L1201.65 254.46 L1270.02 225.11 L1311.25 353.12 L1350.12 338.31" fill="none" stroke="#000000" stroke-width="3.7" stroke-linecap="round" stroke-linejoin="round" stroke-dasharray="0.01 7.9"/><circle cx="815.8" cy="367.1" r="2.6" fill="#000000"/><circle cx="851.55" cy="325.18" r="2.6" fill="#000000"/><circle cx="904.5" cy="325.18" r="2.6" fill="#000000"/><circle cx="933.8" cy="367.1" r="2.6" fill="#000000"/><circle cx="967.01" cy="367.1" r="2.6" fill="#000000"/><circle cx="1000.42" cy="325.18" r="2.6" fill="#000000"/><circle cx="1035.59" cy="269.28" r="2.6" fill="#000000"/><circle cx="1092.05" cy="297.23" r="2.6" fill="#000000"/><circle cx="1133.46" cy="171.45" r="2.6" fill="#000000"/><circle cx="1168.63" cy="100.18" r="2.6" fill="#000000"/><circle cx="1201.65" cy="254.46" r="2.6" fill="#000000"/><circle cx="1270.02" cy="225.11" r="2.6" fill="#000000"/><circle cx="1311.25" cy="353.12" r="2.6" fill="#000000"/><circle cx="1350.12" cy="338.31" r="2.6" fill="#000000"/><path d="M815.8 185.98 L851.55 187.1 L904.5 150.58 L933.8 126.36 L967.01 79.77 L1000.42 84.62 L1035.59 125.61 L1092.05 200.52 L1133.46 248.22 L1168.63 290.7 L1201.65 340.64 L1270.02 344.37 L1311.25 282.5 L1350.12 215.42" fill="none" stroke="#C00000" stroke-width="3.7" stroke-linejoin="round"/><circle cx="815.8" cy="185.98" r="2.9" fill="#C00000"/><circle cx="851.55" cy="187.1" r="2.9" fill="#C00000"/><circle cx="904.5" cy="150.58" r="2.9" fill="#C00000"/><circle cx="933.8" cy="126.36" r="2.9" fill="#C00000"/><circle cx="967.01" cy="79.77" r="2.9" fill="#C00000"/><circle cx="1000.42" cy="84.62" r="2.9" fill="#C00000"/><circle cx="1035.59" cy="125.61" r="2.9" fill="#C00000"/><circle cx="1092.05" cy="200.52" r="2.9" fill="#C00000"/><circle cx="1133.46" cy="248.22" r="2.9" fill="#C00000"/><circle cx="1168.63" cy="290.7" r="2.9" fill="#C00000"/><circle cx="1201.65" cy="340.64" r="2.9" fill="#C00000"/><circle cx="1270.02" cy="344.37" r="2.9" fill="#C00000"/><circle cx="1311.25" cy="282.5" r="2.9" fill="#C00000"/><circle cx="1350.12" cy="215.42" r="2.9" fill="#C00000"/><line x1="875.22" y1="817.2" x2="875.22" y2="811.7" stroke="#111111" stroke-width="1.7"/><line x1="934.64" y1="817.2" x2="934.64" y2="811.7" stroke="#111111" stroke-width="1.7"/><line x1="992.14" y1="817.2" x2="992.14" y2="811.7" stroke="#111111" stroke-width="1.7"/><line x1="1051.56" y1="817.2" x2="1051.56" y2="811.7" stroke="#111111" stroke-width="1.7"/><line x1="1109.07" y1="817.2" x2="1109.07" y2="811.7" stroke="#111111" stroke-width="1.7"/><line x1="1168.49" y1="817.2" x2="1168.49" y2="811.7" stroke="#111111" stroke-width="1.7"/><line x1="1227.91" y1="817.2" x2="1227.91" y2="811.7" stroke="#111111" stroke-width="1.7"/><line x1="1281.58" y1="817.2" x2="1281.58" y2="811.7" stroke="#111111" stroke-width="1.7"/><text x="797.8" y="823.28" font-size="16.9" fill="#595959" text-anchor="end">0</text><line x1="815.8" y1="761.35" x2="821.8" y2="761.35" stroke="#111111" stroke-width="1.7"/><text x="797.8" y="767.43" font-size="16.9" fill="#595959" text-anchor="end">2</text><line x1="815.8" y1="705.5" x2="821.8" y2="705.5" stroke="#111111" stroke-width="1.7"/><text x="797.8" y="711.58" font-size="16.9" fill="#595959" text-anchor="end">4</text><line x1="815.8" y1="649.65" x2="821.8" y2="649.65" stroke="#111111" stroke-width="1.7"/><text x="797.8" y="655.73" font-size="16.9" fill="#595959" text-anchor="end">6</text><line x1="815.8" y1="593.8" x2="821.8" y2="593.8" stroke="#111111" stroke-width="1.7"/><text x="797.8" y="599.88" font-size="16.9" fill="#595959" text-anchor="end">8</text><line x1="815.8" y1="537.95" x2="821.8" y2="537.95" stroke="#111111" stroke-width="1.7"/><text x="797.8" y="544.03" font-size="16.9" fill="#595959" text-anchor="end">10</text><text x="797.8" y="488.18" font-size="16.9" fill="#595959" text-anchor="end">12</text><text x="1359.2" y="823.28" font-size="16.9" fill="#595959" text-anchor="start">0</text><line x1="1341" y1="761.35" x2="1335" y2="761.35" stroke="#111111" stroke-width="1.7"/><text x="1359.2" y="767.43" font-size="16.9" fill="#595959" text-anchor="start">100</text><line x1="1341" y1="705.5" x2="1335" y2="705.5" stroke="#111111" stroke-width="1.7"/><text x="1359.2" y="711.58" font-size="16.9" fill="#595959" text-anchor="start">200</text><line x1="1341" y1="649.65" x2="1335" y2="649.65" stroke="#111111" stroke-width="1.7"/><text x="1359.2" y="655.73" font-size="16.9" fill="#595959" text-anchor="start">300</text><line x1="1341" y1="593.8" x2="1335" y2="593.8" stroke="#111111" stroke-width="1.7"/><text x="1359.2" y="599.88" font-size="16.9" fill="#595959" text-anchor="start">400</text><line x1="1341" y1="537.95" x2="1335" y2="537.95" stroke="#111111" stroke-width="1.7"/><text x="1359.2" y="544.03" font-size="16.9" fill="#595959" text-anchor="start">500</text><text x="1359.2" y="488.18" font-size="16.9" fill="#595959" text-anchor="start">600</text><text x="822.1" y="842.9" font-size="17.8" font-weight="bold" fill="#505050" text-anchor="end" transform="rotate(-45 822.1 842.9)">03.07.2020</text><text x="881.52" y="842.9" font-size="17.8" font-weight="bold" fill="#505050" text-anchor="end" transform="rotate(-45 881.52 842.9)">03.08.2020</text><text x="940.94" y="842.9" font-size="17.8" font-weight="bold" fill="#505050" text-anchor="end" transform="rotate(-45 940.94 842.9)">03.09.2020</text><text x="998.44" y="842.9" font-size="17.8" font-weight="bold" fill="#505050" text-anchor="end" transform="rotate(-45 998.44 842.9)">03.10.2020</text><text x="1057.86" y="842.9" font-size="17.8" font-weight="bold" fill="#505050" text-anchor="end" transform="rotate(-45 1057.86 842.9)">03.11.2020</text><text x="1115.37" y="842.9" font-size="17.8" font-weight="bold" fill="#505050" text-anchor="end" transform="rotate(-45 1115.37 842.9)">03.12.2020</text><text x="1174.79" y="842.9" font-size="17.8" font-weight="bold" fill="#505050" text-anchor="end" transform="rotate(-45 1174.79 842.9)">03.01.2021</text><text x="1234.21" y="842.9" font-size="17.8" font-weight="bold" fill="#505050" text-anchor="end" transform="rotate(-45 1234.21 842.9)">03.02.2021</text><text x="1287.88" y="842.9" font-size="17.8" font-weight="bold" fill="#505050" text-anchor="end" transform="rotate(-45 1287.88 842.9)">03.03.2021</text><rect x="815.8" y="482.1" width="525.2" height="335.1" fill="none" stroke="#111111" stroke-width="1.8"/><path d="M815.8 817.2 L850.88 775.31 L902.82 775.31 L931.57 817.2 L964.16 817.2 L996.94 775.31 L1031.44 719.46 L1086.83 747.39 L1127.47 621.73 L1161.97 550.52 L1194.37 704.66 L1261.45 675.34 L1301.9 803.24 L1340.04 788.44" fill="none" stroke="#000000" stroke-width="3.7" stroke-linecap="round" stroke-linejoin="round" stroke-dasharray="0.01 7.9"/><circle cx="815.8" cy="817.2" r="2.6" fill="#000000"/><circle cx="850.88" cy="775.31" r="2.6" fill="#000000"/><circle cx="902.82" cy="775.31" r="2.6" fill="#000000"/><circle cx="931.57" cy="817.2" r="2.6" fill="#000000"/><circle cx="964.16" cy="817.2" r="2.6" fill="#000000"/><circle cx="996.94" cy="775.31" r="2.6" fill="#000000"/><circle cx="1031.44" cy="719.46" r="2.6" fill="#000000"/><circle cx="1086.83" cy="747.39" r="2.6" fill="#000000"/><circle cx="1127.47" cy="621.73" r="2.6" fill="#000000"/><circle cx="1161.97" cy="550.52" r="2.6" fill="#000000"/><circle cx="1194.37" cy="704.66" r="2.6" fill="#000000"/><circle cx="1261.45" cy="675.34" r="2.6" fill="#000000"/><circle cx="1301.9" cy="803.24" r="2.6" fill="#000000"/><circle cx="1340.04" cy="788.44" r="2.6" fill="#000000"/><path d="M815.8 817.2 L850.88 815.8 L902.82 781.46 L931.57 817.2 L964.16 815.52 L996.94 750.18 L1031.44 666.96 L1086.83 685.39 L1127.47 530.13 L1161.97 744.6 L1194.37 814.97 L1261.45 816.64 L1301.9 813.57 L1340.04 805.75" fill="none" stroke="#00B050" stroke-width="3.7" stroke-linejoin="round"/><circle cx="815.8" cy="817.2" r="2.9" fill="#00B050"/><circle cx="850.88" cy="815.8" r="2.9" fill="#00B050"/><circle cx="902.82" cy="781.46" r="2.9" fill="#00B050"/><circle cx="931.57" cy="817.2" r="2.9" fill="#00B050"/><circle cx="964.16" cy="815.52" r="2.9" fill="#00B050"/><circle cx="996.94" cy="750.18" r="2.9" fill="#00B050"/><circle cx="1031.44" cy="666.96" r="2.9" fill="#00B050"/><circle cx="1086.83" cy="685.39" r="2.9" fill="#00B050"/><circle cx="1127.47" cy="530.13" r="2.9" fill="#00B050"/><circle cx="1161.97" cy="744.6" r="2.9" fill="#00B050"/><circle cx="1194.37" cy="814.97" r="2.9" fill="#00B050"/><circle cx="1261.45" cy="816.64" r="2.9" fill="#00B050"/><circle cx="1301.9" cy="813.57" r="2.9" fill="#00B050"/><circle cx="1340.04" cy="805.75" r="2.9" fill="#00B050"/><line x1="886.7" y1="1255.5" x2="886.7" y2="1250" stroke="#111111" stroke-width="1.7"/><line x1="943.31" y1="1255.5" x2="943.31" y2="1250" stroke="#111111" stroke-width="1.7"/><line x1="998.08" y1="1255.5" x2="998.08" y2="1250" stroke="#111111" stroke-width="1.7"/><line x1="1054.69" y1="1255.5" x2="1054.69" y2="1250" stroke="#111111" stroke-width="1.7"/><line x1="1109.46" y1="1255.5" x2="1109.46" y2="1250" stroke="#111111" stroke-width="1.7"/><line x1="1166.07" y1="1255.5" x2="1166.07" y2="1250" stroke="#111111" stroke-width="1.7"/><line x1="1222.67" y1="1255.5" x2="1222.67" y2="1250" stroke="#111111" stroke-width="1.7"/><line x1="1273.8" y1="1255.5" x2="1273.8" y2="1250" stroke="#111111" stroke-width="1.7"/><text x="812.1" y="1261.58" font-size="16.9" fill="#595959" text-anchor="end">0</text><line x1="830.1" y1="1202.8" x2="836.1" y2="1202.8" stroke="#111111" stroke-width="1.7"/><text x="812.1" y="1208.88" font-size="16.9" fill="#595959" text-anchor="end">2</text><line x1="830.1" y1="1150.1" x2="836.1" y2="1150.1" stroke="#111111" stroke-width="1.7"/><text x="812.1" y="1156.18" font-size="16.9" fill="#595959" text-anchor="end">4</text><line x1="830.1" y1="1097.4" x2="836.1" y2="1097.4" stroke="#111111" stroke-width="1.7"/><text x="812.1" y="1103.48" font-size="16.9" fill="#595959" text-anchor="end">6</text><line x1="830.1" y1="1044.7" x2="836.1" y2="1044.7" stroke="#111111" stroke-width="1.7"/><text x="812.1" y="1050.78" font-size="16.9" fill="#595959" text-anchor="end">8</text><line x1="830.1" y1="992" x2="836.1" y2="992" stroke="#111111" stroke-width="1.7"/><text x="812.1" y="998.08" font-size="16.9" fill="#595959" text-anchor="end">10</text><text x="812.1" y="945.38" font-size="16.9" fill="#595959" text-anchor="end">12</text><text x="1348.2" y="1261.58" font-size="16.9" fill="#595959" text-anchor="start">1.2</text><line x1="1330.4" y1="1220.37" x2="1324.4" y2="1220.37" stroke="#111111" stroke-width="1.7"/><text x="1348.2" y="1226.45" font-size="16.9" fill="#595959" text-anchor="start">1.3</text><line x1="1330.4" y1="1185.23" x2="1324.4" y2="1185.23" stroke="#111111" stroke-width="1.7"/><text x="1348.2" y="1191.32" font-size="16.9" fill="#595959" text-anchor="start">1.4</text><line x1="1330.4" y1="1150.1" x2="1324.4" y2="1150.1" stroke="#111111" stroke-width="1.7"/><text x="1348.2" y="1156.18" font-size="16.9" fill="#595959" text-anchor="start">1.5</text><line x1="1330.4" y1="1114.97" x2="1324.4" y2="1114.97" stroke="#111111" stroke-width="1.7"/><text x="1348.2" y="1121.05" font-size="16.9" fill="#595959" text-anchor="start">1.6</text><line x1="1330.4" y1="1079.83" x2="1324.4" y2="1079.83" stroke="#111111" stroke-width="1.7"/><text x="1348.2" y="1085.92" font-size="16.9" fill="#595959" text-anchor="start">1.7</text><line x1="1330.4" y1="1044.7" x2="1324.4" y2="1044.7" stroke="#111111" stroke-width="1.7"/><text x="1348.2" y="1050.78" font-size="16.9" fill="#595959" text-anchor="start">1.8</text><line x1="1330.4" y1="1009.57" x2="1324.4" y2="1009.57" stroke="#111111" stroke-width="1.7"/><text x="1348.2" y="1015.65" font-size="16.9" fill="#595959" text-anchor="start">1.9</text><line x1="1330.4" y1="974.43" x2="1324.4" y2="974.43" stroke="#111111" stroke-width="1.7"/><text x="1348.2" y="980.52" font-size="16.9" fill="#595959" text-anchor="start">2</text><text x="1348.2" y="945.38" font-size="16.9" fill="#595959" text-anchor="start">2.1</text><text x="836.4" y="1281.2" font-size="17.8" font-weight="bold" fill="#505050" text-anchor="end" transform="rotate(-45 836.4 1281.2)">03.07.2020</text><text x="893" y="1281.2" font-size="17.8" font-weight="bold" fill="#505050" text-anchor="end" transform="rotate(-45 893 1281.2)">03.08.2020</text><text x="949.61" y="1281.2" font-size="17.8" font-weight="bold" fill="#505050" text-anchor="end" transform="rotate(-45 949.61 1281.2)">03.09.2020</text><text x="1004.38" y="1281.2" font-size="17.8" font-weight="bold" fill="#505050" text-anchor="end" transform="rotate(-45 1004.38 1281.2)">03.10.2020</text><text x="1060.99" y="1281.2" font-size="17.8" font-weight="bold" fill="#505050" text-anchor="end" transform="rotate(-45 1060.99 1281.2)">03.11.2020</text><text x="1115.76" y="1281.2" font-size="17.8" font-weight="bold" fill="#505050" text-anchor="end" transform="rotate(-45 1115.76 1281.2)">03.12.2020</text><text x="1172.37" y="1281.2" font-size="17.8" font-weight="bold" fill="#505050" text-anchor="end" transform="rotate(-45 1172.37 1281.2)">03.01.2021</text><text x="1228.97" y="1281.2" font-size="17.8" font-weight="bold" fill="#505050" text-anchor="end" transform="rotate(-45 1228.97 1281.2)">03.02.2021</text><text x="1280.1" y="1281.2" font-size="17.8" font-weight="bold" fill="#505050" text-anchor="end" transform="rotate(-45 1280.1 1281.2)">03.03.2021</text><rect x="830.1" y="939.3" width="500.3" height="316.2" fill="none" stroke="#111111" stroke-width="1.8"/><path d="M830.1 1255.5 L863.51 1215.97 L913 1215.97 L940.39 1255.5 L971.43 1255.5 L1002.65 1215.97 L1035.52 1163.28 L1088.28 1189.62 L1126.99 1071.05 L1159.86 1003.86 L1190.72 1149.31 L1254.62 1121.64 L1293.15 1242.33 L1329.49 1228.36" fill="none" stroke="#000000" stroke-width="3.7" stroke-linecap="round" stroke-linejoin="round" stroke-dasharray="0.01 7.9"/><circle cx="830.1" cy="1255.5" r="2.6" fill="#000000"/><circle cx="863.51" cy="1215.97" r="2.6" fill="#000000"/><circle cx="913" cy="1215.97" r="2.6" fill="#000000"/><circle cx="940.39" cy="1255.5" r="2.6" fill="#000000"/><circle cx="971.43" cy="1255.5" r="2.6" fill="#000000"/><circle cx="1002.65" cy="1215.97" r="2.6" fill="#000000"/><circle cx="1035.52" cy="1163.28" r="2.6" fill="#000000"/><circle cx="1088.28" cy="1189.62" r="2.6" fill="#000000"/><circle cx="1126.99" cy="1071.05" r="2.6" fill="#000000"/><circle cx="1159.86" cy="1003.86" r="2.6" fill="#000000"/><circle cx="1190.72" cy="1149.31" r="2.6" fill="#000000"/><circle cx="1254.62" cy="1121.64" r="2.6" fill="#000000"/><circle cx="1293.15" cy="1242.33" r="2.6" fill="#000000"/><circle cx="1329.49" cy="1228.36" r="2.6" fill="#000000"/><path d="M830.1 1234.77 L863.51 1218.26 L913 1125.16 L940.39 1161.69 L971.43 1039.43 L1002.65 1123.75 L1035.52 1177.86 L1088.28 1133.24 L1126.99 1012.73 L1159.86 962.49 L1190.72 959.33 L1254.62 1059.46 L1293.15 1147.29 L1329.49 1116.37" fill="none" stroke="#0070C0" stroke-width="3.7" stroke-linejoin="round"/><circle cx="830.1" cy="1234.77" r="2.9" fill="#0070C0"/><circle cx="863.51" cy="1218.26" r="2.9" fill="#0070C0"/><circle cx="913" cy="1125.16" r="2.9" fill="#0070C0"/><circle cx="940.39" cy="1161.69" r="2.9" fill="#0070C0"/><circle cx="971.43" cy="1039.43" r="2.9" fill="#0070C0"/><circle cx="1002.65" cy="1123.75" r="2.9" fill="#0070C0"/><circle cx="1035.52" cy="1177.86" r="2.9" fill="#0070C0"/><circle cx="1088.28" cy="1133.24" r="2.9" fill="#0070C0"/><circle cx="1126.99" cy="1012.73" r="2.9" fill="#0070C0"/><circle cx="1159.86" cy="962.49" r="2.9" fill="#0070C0"/><circle cx="1190.72" cy="959.33" r="2.9" fill="#0070C0"/><circle cx="1254.62" cy="1059.46" r="2.9" fill="#0070C0"/><circle cx="1293.15" cy="1147.29" r="2.9" fill="#0070C0"/><circle cx="1329.49" cy="1116.37" r="2.9" fill="#0070C0"/><line x1="882.3" y1="1719.2" x2="882.3" y2="1713.7" stroke="#111111" stroke-width="1.7"/><line x1="948.81" y1="1719.2" x2="948.81" y2="1713.7" stroke="#111111" stroke-width="1.7"/><line x1="1013.16" y1="1719.2" x2="1013.16" y2="1713.7" stroke="#111111" stroke-width="1.7"/><line x1="1079.67" y1="1719.2" x2="1079.67" y2="1713.7" stroke="#111111" stroke-width="1.7"/><line x1="1144.02" y1="1719.2" x2="1144.02" y2="1713.7" stroke="#111111" stroke-width="1.7"/><line x1="1210.53" y1="1719.2" x2="1210.53" y2="1713.7" stroke="#111111" stroke-width="1.7"/><line x1="1277.03" y1="1719.2" x2="1277.03" y2="1713.7" stroke="#111111" stroke-width="1.7"/><line x1="1337.1" y1="1719.2" x2="1337.1" y2="1713.7" stroke="#111111" stroke-width="1.7"/><text x="797.8" y="1725.28" font-size="16.9" fill="#595959" text-anchor="end">0</text><line x1="815.8" y1="1677.12" x2="821.8" y2="1677.12" stroke="#111111" stroke-width="1.7"/><text x="797.8" y="1683.21" font-size="16.9" fill="#595959" text-anchor="end">2</text><line x1="815.8" y1="1635.05" x2="821.8" y2="1635.05" stroke="#111111" stroke-width="1.7"/><text x="797.8" y="1641.13" font-size="16.9" fill="#595959" text-anchor="end">4</text><line x1="815.8" y1="1592.97" x2="821.8" y2="1592.97" stroke="#111111" stroke-width="1.7"/><text x="797.8" y="1599.06" font-size="16.9" fill="#595959" text-anchor="end">6</text><line x1="815.8" y1="1550.9" x2="821.8" y2="1550.9" stroke="#111111" stroke-width="1.7"/><text x="797.8" y="1556.98" font-size="16.9" fill="#595959" text-anchor="end">8</text><line x1="815.8" y1="1508.83" x2="821.8" y2="1508.83" stroke="#111111" stroke-width="1.7"/><text x="797.8" y="1514.91" font-size="16.9" fill="#595959" text-anchor="end">10</text><line x1="815.8" y1="1466.75" x2="821.8" y2="1466.75" stroke="#111111" stroke-width="1.7"/><text x="797.8" y="1472.83" font-size="16.9" fill="#595959" text-anchor="end">12</text><line x1="815.8" y1="1424.67" x2="821.8" y2="1424.67" stroke="#111111" stroke-width="1.7"/><text x="797.8" y="1430.76" font-size="16.9" fill="#595959" text-anchor="end">14</text><text x="797.8" y="1388.68" font-size="16.9" fill="#595959" text-anchor="end">16</text><text x="822.1" y="1744.9" font-size="17.8" font-weight="bold" fill="#505050" text-anchor="end" transform="rotate(-45 822.1 1744.9)">03.07.2020</text><text x="888.6" y="1744.9" font-size="17.8" font-weight="bold" fill="#505050" text-anchor="end" transform="rotate(-45 888.6 1744.9)">03.08.2020</text><text x="955.11" y="1744.9" font-size="17.8" font-weight="bold" fill="#505050" text-anchor="end" transform="rotate(-45 955.11 1744.9)">03.09.2020</text><text x="1019.46" y="1744.9" font-size="17.8" font-weight="bold" fill="#505050" text-anchor="end" transform="rotate(-45 1019.46 1744.9)">03.10.2020</text><text x="1085.97" y="1744.9" font-size="17.8" font-weight="bold" fill="#505050" text-anchor="end" transform="rotate(-45 1085.97 1744.9)">03.11.2020</text><text x="1150.32" y="1744.9" font-size="17.8" font-weight="bold" fill="#505050" text-anchor="end" transform="rotate(-45 1150.32 1744.9)">03.12.2020</text><text x="1216.83" y="1744.9" font-size="17.8" font-weight="bold" fill="#505050" text-anchor="end" transform="rotate(-45 1216.83 1744.9)">03.01.2021</text><text x="1283.33" y="1744.9" font-size="17.8" font-weight="bold" fill="#505050" text-anchor="end" transform="rotate(-45 1283.33 1744.9)">03.02.2021</text><text x="1343.4" y="1744.9" font-size="17.8" font-weight="bold" fill="#505050" text-anchor="end" transform="rotate(-45 1343.4 1744.9)">03.03.2021</text><rect x="815.8" y="1382.6" width="587.8" height="336.6" fill="none" stroke="#111111" stroke-width="1.8"/><path d="M815.8 1719.2 L855.06 1719.2 L913.19 1614.01 L945.37 1719.2 L981.84 1719.2 L1018.53 1719.2 L1057.14 1719.2 L1119.14 1719.2 L1164.62 1508.83 L1203.23 1403.64 L1239.49 1508.83 L1314.57 1719.2 L1359.84 1719.2 L1402.53 1614.01" fill="none" stroke="#8048B4" stroke-width="3.3" stroke-linecap="round" stroke-linejoin="round" stroke-dasharray="0.01 7.95"/><circle cx="815.8" cy="1719.2" r="2.5" fill="#7030A0"/><circle cx="855.06" cy="1719.2" r="2.5" fill="#7030A0"/><circle cx="913.19" cy="1614.01" r="2.5" fill="#7030A0"/><circle cx="945.37" cy="1719.2" r="2.5" fill="#7030A0"/><circle cx="981.84" cy="1719.2" r="2.5" fill="#7030A0"/><circle cx="1018.53" cy="1719.2" r="2.5" fill="#7030A0"/><circle cx="1057.14" cy="1719.2" r="2.5" fill="#7030A0"/><circle cx="1119.14" cy="1719.2" r="2.5" fill="#7030A0"/><circle cx="1164.62" cy="1508.83" r="2.5" fill="#7030A0"/><circle cx="1203.23" cy="1403.64" r="2.5" fill="#7030A0"/><circle cx="1239.49" cy="1508.83" r="2.5" fill="#7030A0"/><circle cx="1314.57" cy="1719.2" r="2.5" fill="#7030A0"/><circle cx="1359.84" cy="1719.2" r="2.5" fill="#7030A0"/><circle cx="1402.53" cy="1614.01" r="2.5" fill="#7030A0"/><path d="M815.8 1719.2 L855.06 1649.15 L913.19 1649.15 L945.37 1719.2 L981.84 1719.2 L1018.53 1719.2 L1057.14 1649.15 L1119.14 1684.07 L1164.62 1719.2 L1203.23 1543.96 L1239.49 1684.07 L1314.57 1649.15 L1359.84 1684.07 L1402.53 1719.2" fill="none" stroke="#FFC000" stroke-width="3.3" stroke-linecap="round" stroke-linejoin="round" stroke-dasharray="0.01 7.95"/><circle cx="815.8" cy="1719.2" r="2.5" fill="#FFC000"/><circle cx="855.06" cy="1649.15" r="2.5" fill="#FFC000"/><circle cx="913.19" cy="1649.15" r="2.5" fill="#FFC000"/><circle cx="945.37" cy="1719.2" r="2.5" fill="#FFC000"/><circle cx="981.84" cy="1719.2" r="2.5" fill="#FFC000"/><circle cx="1018.53" cy="1719.2" r="2.5" fill="#FFC000"/><circle cx="1057.14" cy="1649.15" r="2.5" fill="#FFC000"/><circle cx="1119.14" cy="1684.07" r="2.5" fill="#FFC000"/><circle cx="1164.62" cy="1719.2" r="2.5" fill="#FFC000"/><circle cx="1203.23" cy="1543.96" r="2.5" fill="#FFC000"/><circle cx="1239.49" cy="1684.07" r="2.5" fill="#FFC000"/><circle cx="1314.57" cy="1649.15" r="2.5" fill="#FFC000"/><circle cx="1359.84" cy="1684.07" r="2.5" fill="#FFC000"/><circle cx="1402.53" cy="1719.2" r="2.5" fill="#FFC000"/><g transform="translate(23 198.5) rotate(-90)"><text x="0" y="0" font-size="18" font-weight="bold" fill="#595959" text-anchor="middle" textLength="203.7" lengthAdjust="spacingAndGlyphs">Percentage of bleached</text></g><g transform="translate(48.9 200.6) rotate(-90)"><text x="0" y="0" font-size="18" font-weight="bold" fill="#595959" text-anchor="middle" textLength="99.5" lengthAdjust="spacingAndGlyphs">colonies, %</text></g><g transform="translate(23 648.1) rotate(-90)"><text x="0" y="0" font-size="18" font-weight="bold" fill="#595959" text-anchor="middle" textLength="203.7" lengthAdjust="spacingAndGlyphs">Percentage of bleached</text></g><g transform="translate(48.9 650.3) rotate(-90)"><text x="0" y="0" font-size="18" font-weight="bold" fill="#595959" text-anchor="middle" textLength="99.5" lengthAdjust="spacingAndGlyphs">colonies, %</text></g><g transform="translate(23 1098.8) rotate(-90)"><text x="0" y="0" font-size="18" font-weight="bold" fill="#595959" text-anchor="middle" textLength="203.7" lengthAdjust="spacingAndGlyphs">Percentage of bleached</text></g><g transform="translate(48.9 1101) rotate(-90)"><text x="0" y="0" font-size="18" font-weight="bold" fill="#595959" text-anchor="middle" textLength="99.5" lengthAdjust="spacingAndGlyphs">colonies, %</text></g><g transform="translate(23 1549.7) rotate(-90)"><text x="0" y="0" font-size="18" font-weight="bold" fill="#595959" text-anchor="middle" textLength="203.7" lengthAdjust="spacingAndGlyphs">Percentage of bleached</text></g><g transform="translate(48.9 1552) rotate(-90)"><text x="0" y="0" font-size="18" font-weight="bold" fill="#595959" text-anchor="middle" textLength="99.5" lengthAdjust="spacingAndGlyphs">colonies, %</text></g><g transform="translate(746.1 193.4) rotate(-90)"><text x="0" y="0" font-size="18" font-weight="bold" fill="#595959" text-anchor="middle" textLength="200.5" lengthAdjust="spacingAndGlyphs">Percentage of colonies</text></g><g transform="translate(772.5 194.4) rotate(-90)"><text x="0" y="0" font-size="18" font-weight="bold" fill="#595959" text-anchor="middle" textLength="101" lengthAdjust="spacingAndGlyphs">with PM, %</text></g><g transform="translate(746.1 645.6) rotate(-90)"><text x="0" y="0" font-size="18" font-weight="bold" fill="#595959" text-anchor="middle" textLength="200.5" lengthAdjust="spacingAndGlyphs">Percentage of colonies</text></g><g transform="translate(772.5 646.5) rotate(-90)"><text x="0" y="0" font-size="18" font-weight="bold" fill="#595959" text-anchor="middle" textLength="101" lengthAdjust="spacingAndGlyphs">with PM, %</text></g><g transform="translate(746.1 1093.7) rotate(-90)"><text x="0" y="0" font-size="18" font-weight="bold" fill="#595959" text-anchor="middle" textLength="200.5" lengthAdjust="spacingAndGlyphs">Percentage of colonies</text></g><g transform="translate(772.5 1094.7) rotate(-90)"><text x="0" y="0" font-size="18" font-weight="bold" fill="#595959" text-anchor="middle" textLength="101" lengthAdjust="spacingAndGlyphs">with PM, %</text></g><g transform="translate(742.3 1538.8) rotate(-90)"><text x="0" y="0" font-size="18" font-weight="bold" fill="#595959" text-anchor="middle" textLength="200.5" lengthAdjust="spacingAndGlyphs">Percentage of colonies</text></g><g transform="translate(768.7 1541.7) rotate(-90)"><text x="0" y="0" font-size="18" font-weight="bold" fill="#595959" text-anchor="middle" textLength="101" lengthAdjust="spacingAndGlyphs">with PM, %</text></g><g transform="translate(690.9 200) rotate(-90)"><text x="0" y="0" font-size="18" font-weight="bold" fill="#595959" text-anchor="middle" textLength="143" lengthAdjust="spacingAndGlyphs">Temperature, ˚C</text></g><g transform="translate(1411.4 200.2) rotate(-90)"><text x="0" y="0" font-size="18" font-weight="bold" fill="#595959" text-anchor="middle" textLength="143" lengthAdjust="spacingAndGlyphs">Temperature, ˚C</text></g><g transform="translate(690.5 650.5) rotate(-90)"><text x="0" y="0" font-size="18" font-weight="bold" fill="#595959" text-anchor="middle" textLength="158" lengthAdjust="spacingAndGlyphs">Precipitation, mm</text></g><g transform="translate(1410.4 650.8) rotate(-90)"><text x="0" y="0" font-size="18" font-weight="bold" fill="#595959" text-anchor="middle" textLength="158" lengthAdjust="spacingAndGlyphs">Precipitation, mm</text></g><g transform="translate(691 1098.5) rotate(-90)"><text x="0" y="0" font-size="18" font-weight="bold" fill="#595959" text-anchor="middle" textLength="213" lengthAdjust="spacingAndGlyphs">Eastern wind speed, m/s</text></g><g transform="translate(1395.7 1095.6) rotate(-90)"><text x="0" y="0" font-size="18" font-weight="bold" fill="#595959" text-anchor="middle" textLength="213" lengthAdjust="spacingAndGlyphs">Eastern wind speed, m/s</text></g><text x="6.5" y="24.3" font-size="29" font-weight="bold" fill="#000">A</text><text x="4.5" y="491.3" font-size="29" font-weight="bold" fill="#000">B</text><text x="1" y="945" font-size="29" font-weight="bold" fill="#000">C</text><text x="4.3" y="1392.2" font-size="29" font-weight="bold" fill="#000">D</text><text x="722" y="24.3" font-size="29" font-weight="bold" fill="#000">E</text><text x="724" y="489.4" font-size="29" font-weight="bold" fill="#000">F</text><text x="725" y="943.1" font-size="29" font-weight="bold" fill="#000">G</text><text x="724.5" y="1392.2" font-size="29" font-weight="bold" fill="#000">H</text><line x1="475.5" y1="1847.7" x2="506.5" y2="1847.7" stroke="#000000" stroke-width="2.4" stroke-linecap="round"/><circle cx="491" cy="1847.7" r="3.2" fill="#000000"/><text x="528.3" y="1853.6" font-size="21.5" font-weight="bold" fill="#000" text-anchor="start" textLength="101" lengthAdjust="spacingAndGlyphs">Bleaching;</text><circle cx="676.2" cy="1848.1" r="1.4" fill="#000000"/><circle cx="682.9" cy="1848.1" r="1.4" fill="#000000"/><circle cx="689.7" cy="1848.1" r="1.4" fill="#000000"/><circle cx="702.9" cy="1848.1" r="1.4" fill="#000000"/><circle cx="709.7" cy="1848.1" r="1.4" fill="#000000"/><circle cx="695.9" cy="1848.1" r="3.7" fill="#000000"/><text x="731.6" y="1853.6" font-size="21.5" font-weight="bold" fill="#000" text-anchor="start" textLength="213.2" lengthAdjust="spacingAndGlyphs">Partial mortality (PM)</text><line x1="475.5" y1="1901.6" x2="506.5" y2="1901.6" stroke="#C00000" stroke-width="2.4" stroke-linecap="round"/><circle cx="491" cy="1901.6" r="3.2" fill="#C00000"/><text x="528.8" y="1908.2" font-size="21.5" font-weight="bold" fill="#000" text-anchor="start" textLength="134" lengthAdjust="spacingAndGlyphs">Temperature;</text><line x1="679.5" y1="1901.6" x2="710.6" y2="1901.6" stroke="#00B050" stroke-width="2.4" stroke-linecap="round"/><circle cx="695.05" cy="1901.6" r="3.2" fill="#00B050"/><text x="729.3" y="1908.2" font-size="21.5" font-weight="bold" fill="#000" text-anchor="start" textLength="131.2" lengthAdjust="spacingAndGlyphs">Precipitation;</text><line x1="876.5" y1="1901.7" x2="915.4" y2="1901.7" stroke="#0070C0" stroke-width="2.4" stroke-linecap="round"/><circle cx="895.95" cy="1901.7" r="3.2" fill="#0070C0"/><text x="934.4" y="1908.4" font-size="21.5" font-weight="bold" fill="#000" text-anchor="start" textLength="192" lengthAdjust="spacingAndGlyphs">Eastern wind speed</text><text x="474.5" y="1963.2" font-size="21.5" font-weight="bold" fill="#000" text-anchor="start" textLength="227" lengthAdjust="spacingAndGlyphs">Density, colonies per m</text><text x="704" y="1951.3" font-size="13.5" font-weight="bold" fill="#000" text-anchor="start">2</text><text x="717.5" y="1963.2" font-size="21.5" font-weight="bold" fill="#000" text-anchor="start">:</text><line x1="735.3" y1="1957.5" x2="765.6" y2="1957.5" stroke="#8048B4" stroke-width="2.4" stroke-linecap="round"/><circle cx="750.45" cy="1957.5" r="3.2" fill="#7030A0"/><text x="775.9" y="1963.2" font-size="21.5" font-weight="bold" fill="#000" text-anchor="start" textLength="50.6" lengthAdjust="spacingAndGlyphs">13.3;</text><line x1="845.5" y1="1957.5" x2="875.4" y2="1957.5" stroke="#FFC000" stroke-width="2.4" stroke-linecap="round"/><circle cx="860.45" cy="1957.5" r="3.2" fill="#FFC000"/><text x="888.6" y="1963.2" font-size="21.5" font-weight="bold" fill="#000" text-anchor="start" textLength="32.4" lengthAdjust="spacingAndGlyphs">40;</text><circle cx="938.6" cy="1957.9" r="1.5" fill="#8048B4"/><circle cx="945.4" cy="1957.9" r="1.5" fill="#8048B4"/><circle cx="951.5" cy="1957.9" r="1.5" fill="#8048B4"/><circle cx="965.1" cy="1957.9" r="1.5" fill="#8048B4"/><circle cx="971.9" cy="1957.9" r="1.5" fill="#8048B4"/><circle cx="958.1" cy="1957.9" r="3.4" fill="#8048B4"/><text x="984.2" y="1963.2" font-size="21.5" font-weight="bold" fill="#000" text-anchor="start" textLength="49.6" lengthAdjust="spacingAndGlyphs">13.3;</text><circle cx="1052.7" cy="1957.9" r="1.5" fill="#FFC000"/><circle cx="1059.5" cy="1957.9" r="1.5" fill="#FFC000"/><circle cx="1065.7" cy="1957.9" r="1.5" fill="#FFC000"/><circle cx="1079.3" cy="1957.9" r="1.5" fill="#FFC000"/><circle cx="1086" cy="1957.9" r="1.5" fill="#FFC000"/><circle cx="1072.5" cy="1957.9" r="3.4" fill="#FFC000"/><text x="1104" y="1963.2" font-size="21.5" font-weight="bold" fill="#000" text-anchor="start" textLength="23.6" lengthAdjust="spacingAndGlyphs">40</text></svg>
</body></html>
